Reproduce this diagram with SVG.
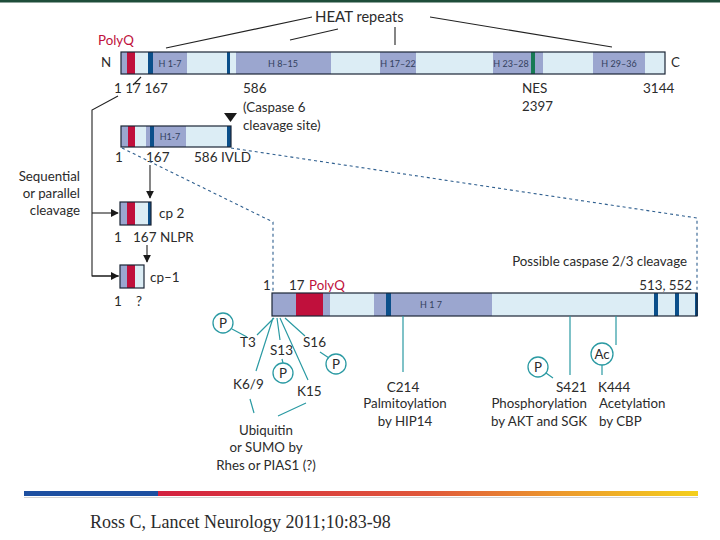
<svg xmlns="http://www.w3.org/2000/svg" width="720" height="540" viewBox="0 0 720 540">
<defs>
<style>
text{font-family:Lato,"Open Sans","Liberation Sans",sans-serif;fill:#2b2b2b}
.t{font-size:13.5px}
.s{font-size:13.3px}
.h{font-size:9px;fill:#33415e}
.q{fill:#c0103c}
.lav{fill:#9ba6cf}
.lt{fill:#dcedf5}
.red{fill:#c0103c}
.bl{fill:#0b4f8a}
.out{fill:none;stroke:#1b2636;stroke-width:1.2}
.k{stroke:#222;stroke-width:1.1;fill:none}
.tl{stroke:#2b9aa3;stroke-width:1.2;fill:none}
.dash{stroke:#2f5f8f;stroke-width:1.1;stroke-dasharray:3 3;fill:none}
.c{fill:#fff;stroke:#2b9aa3;stroke-width:1.3}
.m{text-anchor:middle}
.e{text-anchor:end}
</style>
<linearGradient id="g" x1="0" x2="1" y1="0" y2="0">
<stop offset="0" stop-color="#d3203f"/>
<stop offset="0.5" stop-color="#e0583a"/>
<stop offset="0.75" stop-color="#ec9a2c"/>
<stop offset="1" stop-color="#f4cf1c"/>
</linearGradient>
<marker id="ar" viewBox="0 0 10 10" refX="9" refY="5" markerWidth="8" markerHeight="8" markerUnits="userSpaceOnUse" orient="auto"><path d="M0,0L10,5L0,10z" fill="#1a1a1a"/></marker>
</defs>
<rect x="0" y="0" width="720" height="2.5" fill="#1e4d3a"/>

<g id="heat">
<text x="315" y="22" font-size="15">HEAT <tspan font-size="14.5">repeats</tspan></text>
<path class="k" d="M312,17L166,48M338,29L290,40M395,27V45M430,17L612,47"/>
</g>

<g id="full">
<text x="98" y="45" class="s q">PolyQ</text>
<text x="101" y="67" class="s">N</text>
<text x="671" y="67" class="s">C</text>
<rect x="121" y="52" width="544" height="22" class="lt"/>
<rect x="121" y="52" width="7" height="22" class="lav"/>
<rect x="127" y="52" width="8" height="22" class="red"/>
<rect x="148" y="52" width="5" height="22" class="bl"/>
<rect x="153" y="52" width="34" height="22" class="lav"/>
<rect x="227" y="52" width="3" height="22" class="bl"/>
<rect x="236" y="52" width="95" height="22" class="lav"/>
<rect x="380" y="52" width="36" height="22" class="lav"/>
<rect x="493" y="52" width="50" height="22" class="lav"/>
<rect x="531" y="52" width="4" height="22" fill="#177a55"/>
<rect x="593" y="52" width="52" height="22" class="lav"/>
<rect x="121" y="52" width="544" height="22" class="out"/>
<text x="170" y="67" class="h m">H 1-7</text>
<text x="283" y="67" class="h m">H 8–15</text>
<text x="398" y="67" class="h m">H 17–22</text>
<text x="511" y="67" class="h m">H 23–28</text>
<text x="619" y="67" class="h m">H 29–36</text>
<path class="k" d="M141,77L133,85" stroke-width="0.8"/>
<text x="114" y="93" class="t">1 17 167</text>
<text x="243" y="93" class="t">586</text>
<text x="243" y="112" class="s">(Caspase 6</text>
<text x="243" y="130" class="s">cleavage site)</text>
<text x="522" y="93" class="t">NES</text>
<text x="522" y="111" class="s">2397</text>
<text x="643" y="93" class="t">3144</text>
</g>

<g id="frag586">
<path d="M224,113H237L230.5,122z" fill="#1a1a1a"/>
<rect x="121" y="126" width="110" height="21" class="lt"/>
<rect x="121" y="126" width="7" height="21" class="lav"/>
<rect x="128" y="126" width="7" height="21" class="red"/>
<rect x="146" y="126" width="5" height="21" class="lav"/>
<rect x="150" y="126" width="4" height="21" class="bl"/>
<rect x="154" y="126" width="32" height="21" class="lav"/>
<rect x="227" y="126" width="4" height="21" class="bl"/>
<rect x="121" y="126" width="110" height="21" class="out"/>
<text x="170" y="140" class="h m" font-size="10">H1-7</text>
<text x="115" y="162" class="t">1</text>
<text x="146" y="162" class="t">167</text>
<text x="194" y="162" class="t">586 IVLD</text>
</g>

<g id="cp2">
<rect x="120" y="202" width="31" height="23" class="lt"/>
<rect x="120" y="202" width="7" height="23" class="lav"/>
<rect x="127" y="202" width="8" height="23" class="red"/>
<rect x="148" y="202" width="3" height="23" class="bl"/>
<rect x="120" y="202" width="31" height="23" class="out"/>
<text x="159" y="218" class="t">cp 2</text>
<text x="114" y="242" class="t">1</text>
<text x="133" y="242" class="t">167 NLPR</text>
</g>

<g id="cp1">
<rect x="120" y="265" width="24" height="23" class="lt"/>
<rect x="120" y="265" width="7" height="23" class="lav"/>
<rect x="127" y="265" width="8" height="23" class="red"/>
<rect x="120" y="265" width="24" height="23" class="out"/>
<text x="150" y="282" class="t">cp–1</text>
<text x="114" y="306" class="t">1</text>
<text x="136" y="306" class="t">?</text>
</g>

<g id="seq">
<text x="80" y="181" class="s e">Sequential</text>
<text x="80" y="198" class="s e">or parallel</text>
<text x="80" y="215" class="s e">cleavage</text>
</g>

<g id="htt">
<text x="263" y="290" class="s">1</text>
<text x="289" y="290" class="s">17</text>
<text x="309" y="290" class="s q">PolyQ</text>
<text x="687" y="266" class="s e">Possible caspase 2/3 cleavage</text>
<text x="692" y="290" class="s e">513, 552</text>
<rect x="272" y="293" width="425" height="23" class="lt"/>
<rect x="272" y="293" width="24" height="23" class="lav"/>
<rect x="296" y="293" width="27" height="23" class="red"/>
<rect x="323" y="293" width="7" height="23" class="lav"/>
<rect x="374" y="293" width="118" height="23" class="lav"/>
<rect x="386" y="293" width="5" height="23" class="bl"/>
<rect x="654" y="293" width="4" height="23" class="bl"/>
<rect x="675" y="293" width="4" height="23" class="bl"/>
<rect x="695" y="293" width="3" height="23" class="bl"/>
<rect x="272" y="293" width="425" height="23" class="out"/>
<text x="431" y="308" class="h m" font-size="10">H 1 7</text>
</g>

<g id="ptm-n">
<circle cx="223" cy="323" r="10" class="c"/><text x="223" y="328" class="s m">P</text>
<text x="240" y="347" class="t">T3</text>
<text x="270" y="355" class="t">S13</text>
<circle cx="283" cy="373" r="10" class="c"/><text x="283" y="378" class="s m">P</text>
<text x="303" y="347" class="t">S16</text>
<circle cx="336" cy="364" r="10" class="c"/><text x="336" y="369" class="s m">P</text>
<text x="233" y="389" class="t">K6/9</text>
<text x="297" y="396" class="t">K15</text>
<text x="266" y="435" class="s m">Ubiquitin</text>
<text x="266" y="452" class="s m">or SUMO by</text>
<text x="266" y="470" class="s m">Rhes or PIAS1 (?)</text>
</g>

<g id="ptm-c">
<text x="403" y="392" class="t m">C214</text>
<text x="405" y="408" class="s m">Palmitoylation</text>
<text x="405" y="426" class="s m">by HIP14</text>
<circle cx="538" cy="367" r="10" class="c"/><text x="538" y="372" class="s m">P</text>
<text x="556" y="392" class="t">S421</text>
<text x="598" y="392" class="t">K444</text>
<circle cx="602" cy="354" r="11" class="c"/><text x="602" y="359" class="s m">Ac</text>
<text x="587" y="408" class="s e">Phosphorylation</text>
<text x="587" y="426" class="s e">by AKT and SGK</text>
<text x="599" y="408" class="s">Acetylation</text>
<text x="599" y="426" class="s">by CBP</text>
</g>

<g id="connectors">
<path class="k" d="M118,96L92,110V276H119" stroke="#444"/>
<path class="k" d="M92,213H118" marker-end="url(#ar)"/>
<path class="k" d="M92,276H118" stroke="#999" marker-end="url(#ar)"/>
<path class="k" d="M150,165V198" marker-end="url(#ar)"/>
<path class="k" d="M147,245V262" marker-end="url(#ar)"/>
<path class="dash" d="M122,148L273,222V292"/>
<path class="dash" d="M231,148L697,218V292"/>
<path class="tl" d="M274,318L257,335M232,329L247,337M273,318L256,371M277,318L280,340M282,359L283,363M280,318L308,380M285,318L305,336M320,352L329,358M250,399L254,413M306,403L278,416"/>
<path class="tl" d="M403,316V372M570,316V375M546,373L553,378M616,316V345M602,365V375"/>
</g>

<g id="footer">
<rect x="24" y="491" width="134" height="5" fill="#1d4fa0"/>
<rect x="158" y="491" width="540" height="5" fill="url(#g)"/>
<rect x="24" y="497" width="674" height="0.8" fill="#c8c8c8"/>
<text x="90" y="528" font-size="18" style="font-family:'Liberation Serif','Times New Roman',serif">Ross C, Lancet Neurology 2011;10:83-98</text>
</g>
</svg>
